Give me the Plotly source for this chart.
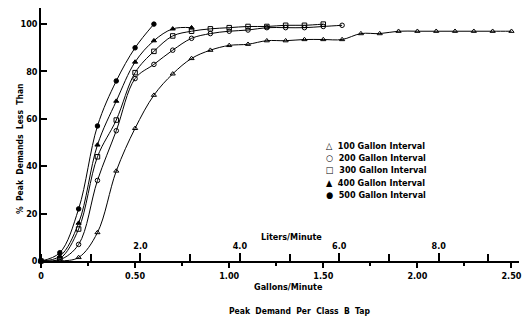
import plotly.graph_objects as go

# ---- data ----
gpm_100 = [0, 0.1, 0.2, 0.3, 0.4, 0.5, 0.6, 0.7, 0.8, 0.9, 1.0, 1.1, 1.2, 1.3, 1.4,
           1.5, 1.6, 1.7, 1.8, 1.9, 2.0, 2.1, 2.2, 2.3, 2.4, 2.5]
pct_100 = [0, 0, 1.5, 12, 38, 56, 70, 79, 85.5, 89, 91, 91.5, 93, 93, 93.5,
           93.5, 93.5, 96, 96, 97, 97, 97, 97, 97, 97, 97]

gpm_200 = [0, 0.1, 0.2, 0.3, 0.4, 0.5, 0.6, 0.7, 0.8, 0.9, 1.0, 1.1, 1.2, 1.3, 1.4, 1.5, 1.6]
pct_200 = [0, 0.5, 7, 34, 55, 77, 83, 89, 94, 96, 97, 97.5, 98.5, 98.5, 98.5, 99, 99.5]

gpm_300 = [0, 0.1, 0.2, 0.3, 0.4, 0.5, 0.6, 0.7, 0.8, 0.9, 1.0, 1.1, 1.2, 1.3, 1.4, 1.5]
pct_300 = [0, 1, 13.5, 44, 59.5, 79.5, 88.5, 95, 97, 98, 98.5, 99, 99, 99.5, 99.5, 100]

gpm_400 = [0, 0.1, 0.2, 0.3, 0.4, 0.5, 0.6, 0.7, 0.8]
pct_400 = [0, 2, 16, 49, 67.5, 84, 93, 98, 98.5]

gpm_500 = [0, 0.1, 0.2, 0.3, 0.4, 0.5, 0.6]
pct_500 = [0, 3.5, 22, 57, 76, 90, 100]

series_names = ["100 Gallon Interval", "200 Gallon Interval", "300 Gallon Interval",
                "400 Gallon Interval", "500 Gallon Interval"]
legend_glyphs = ["\u25b3", "\u25cb", "\u25a1", "\u25b2", "\u25cf"]

y_ticks = [0, 20, 40, 60, 80, 100]
gal_ticks = [0, 0.5, 1.0, 1.5, 2.0, 2.5]
gal_labels = ["0", "0.50", "1.00", "1.50", "2.00", "2.50"]
lit_ticks = [2, 4, 6, 8]
lit_labels = ["2.0", "4.0", "6.0", "8.0"]
LITERS_PER_GALLON = 3.78541

# ---- figure ----
# the page body has an 8px margin, so the figure is sized/positioned to compensate
OFF = 8
FONT = "DejaVu Sans Condensed, Liberation Sans Narrow, sans-serif"
W, H = 522, 314
ML, MR, MT, MB = 33, 11, 0, 61
XMAX = 2.54
YMAX = 106.8

series = [
    (gpm_100, pct_100, "triangle-up-open"),
    (gpm_200, pct_200, "circle-open"),
    (gpm_300, pct_300, "square-open"),
    (gpm_400, pct_400, "triangle-up"),
    (gpm_500, pct_500, "circle"),
]

fig = go.Figure()
for (xs, ys, sym), name in zip(series, series_names):
    fig.add_trace(go.Scatter(
        x=xs, y=ys, mode="lines+markers", name=name, showlegend=False,
        line=dict(color="black", width=1, shape="spline", smoothing=1.0),
        marker=dict(symbol=sym, size=4.5, color="black", line=dict(color="black", width=1)),
        cliponaxis=False,
    ))

# empty trace to keep the liters axis alive
fig.add_trace(go.Scatter(x=[], y=[], xaxis="x2", showlegend=False))

tickfont = dict(family=FONT, size=9, color="black", weight="bold")

fig.update_layout(
    width=W, height=H,
    margin=dict(l=ML, r=MR, t=MT, b=MB, autoexpand=False),
    paper_bgcolor="white", plot_bgcolor="white",
    showlegend=False,
    xaxis=dict(
        range=[0, XMAX], showgrid=False, zeroline=False, automargin=False,
        showline=True, linecolor="black", linewidth=1.5,
        tickmode="array", tickvals=gal_ticks, ticktext=gal_labels,
        ticks="outside", ticklen=5, tickwidth=1.5, tickcolor="black",
        minor=dict(dtick=0.25, tick0=0, ticks="outside", ticklen=3, tickcolor="black"),
        tickfont=tickfont, ticklabeloverflow="allow",
    ),
    xaxis2=dict(
        range=[0, XMAX * LITERS_PER_GALLON], overlaying="x", anchor="free", position=0,
        side="top", showgrid=False, zeroline=False, showline=False, automargin=False,
        tickmode="array", tickvals=lit_ticks, ticktext=lit_labels,
        ticks="outside", ticklen=8, tickwidth=1.5, tickcolor="black",
        minor=dict(dtick=1, tick0=0, ticks="outside", ticklen=7, tickcolor="black"),
        tickfont=tickfont,
    ),
    yaxis=dict(
        range=[0, YMAX], showgrid=False, zeroline=False, automargin=False,
        showline=True, linecolor="black", linewidth=1.5,
        tickmode="array", tickvals=y_ticks,
        ticks="inside", ticklen=6, tickwidth=1.5, tickcolor="black",
        tickfont=tickfont,
    ),
)

PW = W - ML - MR
PH = H - MT - MB


def px2paper(px, py):
    # page pixel -> paper fraction
    return (px - OFF - ML) / PW, (H - MB - (py - OFF)) / PH


annots = []
# legend (text lines)
for i, (g, name) in enumerate(zip(legend_glyphs, series_names)):
    x, y = px2paper(324, 146 + i * 12.2)
    annots.append(dict(x=x, y=y, xref="paper", yref="paper", xanchor="left", yanchor="middle",
                       text=g + "  " + name, showarrow=False,
                       font=dict(family=FONT, size=9, color="black", weight="bold")))

for txt, (px, py), size in [
    ("Liters/Minute", (291, 237), 9),
    ("Gallons/Minute", (288, 287), 9),
    ("Peak  Demand  Per  Class  B  Tap", (299, 311), 8.5),
]:
    x, y = px2paper(px, py)
    annots.append(dict(x=x, y=y, xref="paper", yref="paper", xanchor="center", yanchor="middle",
                       text=txt, showarrow=False,
                       font=dict(family=FONT, size=size, color="black", weight="bold")))

x, y = px2paper(20, 149)
annots.append(dict(x=x, y=y, xref="paper", yref="paper", xanchor="center", yanchor="middle",
                   text="%  Peak  Demands  Less  Than", textangle=-90, showarrow=False,
                   font=dict(family=FONT, size=8.5, color="black", weight="bold")))

fig.update_layout(annotations=annots)

fig.write_html("out.html")
